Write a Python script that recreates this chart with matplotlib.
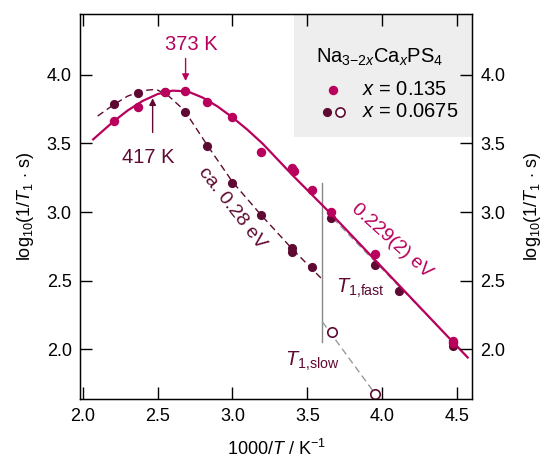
import numpy as np
import matplotlib
matplotlib.use('Agg')
from matplotlib import pyplot as plt
from matplotlib.patches import Rectangle

plt.rcParams['font.family'] = ['Liberation Sans', 'DejaVu Sans']
plt.rcParams['mathtext.fontset'] = 'custom'
plt.rcParams['mathtext.rm'] = 'Liberation Sans'
plt.rcParams['mathtext.it'] = 'Liberation Sans:italic'
plt.rcParams['mathtext.bf'] = 'Liberation Sans:bold'

mag = '#b8005c'
dark = '#5e0a32'

# x = 0.135 data (1000/T, log10 rate)
x_hi = [2.21, 2.37, 2.55, 2.68, 2.83, 3.00, 3.19, 3.40, 3.41, 3.53, 3.66, 3.95, 4.475, 4.475]
y_hi = [3.667, 3.765, 3.875, 3.883, 3.80, 3.694, 3.437, 3.318, 3.30, 3.162, 3.004, 2.693, 2.063, 2.045]

# x = 0.0675, fast component
x_lo = [2.21, 2.37, 2.55, 2.68, 2.83, 3.00, 3.19, 3.40, 3.40, 3.53, 3.66, 3.95, 4.11, 4.475]
y_lo = [3.786, 3.867, 3.875, 3.730, 3.483, 3.215, 2.980, 2.735, 2.710, 2.598, 2.955, 2.615, 2.424, 2.027]

# x = 0.0675, slow component
x_slow = [3.664, 3.949]
y_slow = [2.125, 1.675]

# fit curves
fit_hi_x = [2.07, 2.2, 2.3, 2.4, 2.5, 2.6, 2.7, 2.8, 2.9, 3.0, 3.1, 3.2, 3.3, 3.4, 3.5, 3.6, 3.7, 3.8, 4.0, 4.2, 4.4, 4.57]
fit_hi_y = [3.53, 3.655, 3.74, 3.81, 3.86, 3.885, 3.88, 3.835, 3.77, 3.69, 3.60, 3.50, 3.385, 3.27, 3.16, 3.05, 2.94, 2.825, 2.595, 2.365, 2.135, 1.94]

fit_lo_x = [2.10, 2.21, 2.30, 2.40, 2.49, 2.57, 2.68, 2.83, 3.00, 3.19, 3.40, 3.59]
fit_lo_y = [3.70, 3.785, 3.845, 3.885, 3.895, 3.85, 3.74, 3.49, 3.22, 2.98, 2.73, 2.52]

fast_x = [3.67, 4.56]
fast_y = [2.955, 1.955]

slow_x = [3.60, 3.949]
slow_y = [2.20, 1.68]

fig = plt.figure(figsize=(5.44, 4.61), dpi=100)
ax = fig.add_axes([0.147, 0.134, 0.721, 0.836])

ax.add_patch(Rectangle((0.5455, 0.681), 0.4545, 0.319, transform=ax.transAxes,
                       facecolor='#eeeeee', edgecolor='none', zorder=0))

ax.plot([3.6, 3.6], [2.056, 3.21], color='#888888', lw=1.0, zorder=1)
ax.plot(fast_x, fast_y, color='#999999', lw=1.0, ls=(0, (5, 3)), zorder=1)
ax.plot(slow_x, slow_y, color='#999999', lw=1.0, ls=(0, (5, 3)), zorder=1)
ax.plot(fit_lo_x, fit_lo_y, color=dark, lw=1.0, ls=(0, (5, 3)), zorder=2)
ax.plot(x_lo, y_lo, 'o', color=dark, ms=6.6, mec='none', zorder=3)
ax.plot(fit_hi_x, fit_hi_y, color=mag, lw=1.6, zorder=4)
ax.plot(x_hi, y_hi, 'o', color=mag, ms=6.8, mec='none', zorder=5)
ax.plot(x_slow, y_slow, 'o', mfc='white', mec=dark, mew=1.2, ms=6.8, zorder=5)

ax.set_xlim(1.982, 4.6)
ax.set_ylim(1.636, 4.445)
ax.set_xticks([2.0, 2.5, 3.0, 3.5, 4.0, 4.5])
ax.set_yticks([2.0, 2.5, 3.0, 3.5, 4.0])
ax.tick_params(direction='in', length=8.5, width=1.0, labelsize=13, top=True, right=False, pad=6)
for s in ax.spines.values():
    s.set_linewidth(1.0)

ax.set_xlabel('1000/$T$ / K$^{-1}$', fontsize=13, labelpad=10)
ax.set_ylabel('log$_{10}$(1/$T_1$ $\\cdot$ s)', fontsize=13, labelpad=8)

ax2 = ax.twinx()
ax2.set_ylim(ax.get_ylim())
ax2.set_yticks([2.0, 2.5, 3.0, 3.5, 4.0])
ax2.tick_params(direction='in', length=8.5, width=1.0, labelsize=13, pad=6)
ax2.set_ylabel('log$_{10}$(1/$T_1$ $\\cdot$ s)', fontsize=13, labelpad=12)

# annotations
ax.annotate('', xy=(2.687, 3.935), xytext=(2.687, 4.14),
            arrowprops=dict(arrowstyle='-|>', color=mag, lw=1.0, mutation_scale=10))
ax.text(2.722, 4.225, '373 K', color=mag, fontsize=14.5, ha='center', va='center')
ax.annotate('', xy=(2.467, 3.85), xytext=(2.467, 3.56),
            arrowprops=dict(arrowstyle='-|>', color=dark, lw=1.0, mutation_scale=10))
ax.text(2.435, 3.40, '417 K', color=dark, fontsize=14.5, ha='center', va='center')

ax.text(2.996, 3.03, 'ca. 0.28 eV', color=dark, fontsize=14, ha='center', va='center', rotation=-52)
ax.text(4.063, 2.79, '0.229(2) eV', color=mag, fontsize=14, ha='center', va='center', rotation=-42)
ax.text(3.69, 2.447, '$T_{1{,}\\mathrm{fast}}$', color=dark, fontsize=14.5, ha='left', va='center')
ax.text(3.53, 1.91, '$T_{1{,}\\mathrm{slow}}$', color=dark, fontsize=14.5, ha='center', va='center')

# legend drawn by hand inside the grey box
ax.text(0.7647, 0.886, 'Na$_{3{\u2212}2x}$Ca$_x$PS$_4$', transform=ax.transAxes,
        fontsize=14.5, ha='center', va='center')
ax.plot([0.6449], [0.8028], 'o', color=mag, ms=6.8, mec='none', transform=ax.transAxes, clip_on=False)
ax.plot([0.6296], [0.7457], 'o', color=dark, ms=6.6, mec='none', transform=ax.transAxes, clip_on=False)
ax.plot([0.6628], [0.7457], 'o', mfc='white', mec=dark, mew=1.2, ms=6.6, transform=ax.transAxes, clip_on=False)
ax.text(0.7188, 0.8028, '$x$ = 0.135', transform=ax.transAxes, fontsize=14.5, ha='left', va='center')
ax.text(0.7188, 0.7457, '$x$ = 0.0675', transform=ax.transAxes, fontsize=14.5, ha='left', va='center')

fig.savefig('out.png', dpi=100)
